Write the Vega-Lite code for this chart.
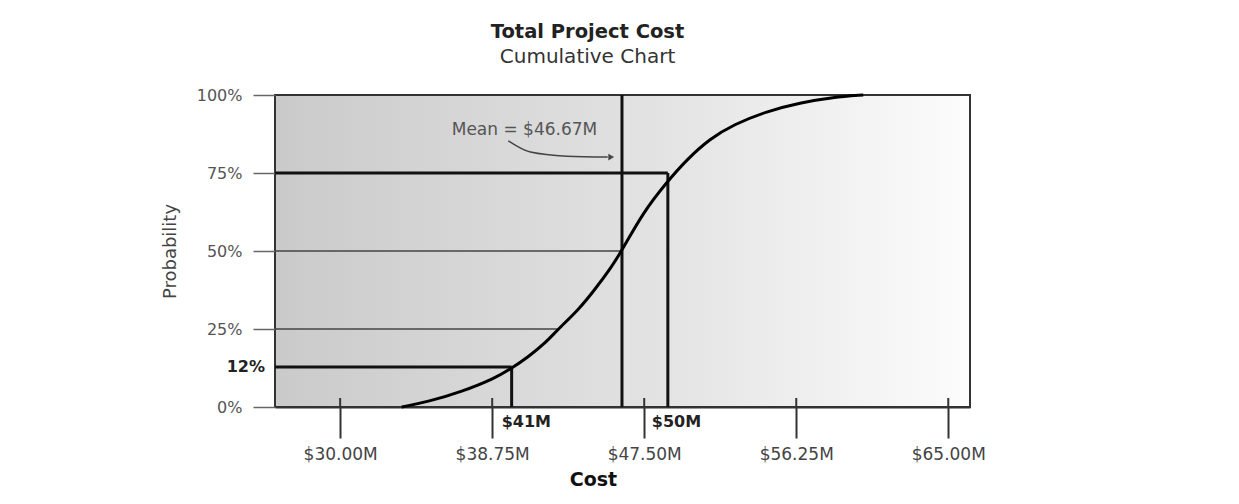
{
  "$schema": "https://vega.github.io/schema/vega-lite/v6.json",
  "autosize": {"type": "none"},
  "width": 695,
  "height": 312,
  "padding": {"left": 275, "top": 95, "right": 269, "bottom": 97},
  "background": "white",
  "config": {
    "font": "DejaVu Sans",
    "view": {
      "stroke": "#333",
      "strokeWidth": 2,
      "fill": {
        "gradient": "linear",
        "x1": 0, "x2": 1, "y1": 0, "y2": 0,
        "stops": [
          {"offset": 0, "color": "#cacaca"},
          {"offset": 0.5, "color": "#e0e0e0"},
          {"offset": 1, "color": "#fcfcfc"}
        ]
      }
    }
  },
  "title": {
    "text": "Total Project Cost",
    "subtitle": "Cumulative Chart",
    "anchor": "middle",
    "dx": -35,
    "fontSize": 19.5,
    "fontWeight": "bold",
    "color": "#222",
    "subtitleFontSize": 20,
    "subtitleColor": "#333",
    "subtitlePadding": 5,
    "offset": 19
  },
  "datasets": {
    "curve": [
      {"cost": 33.54, "prob": 0.0},
      {"cost": 35.07, "prob": 0.017},
      {"cost": 37.0, "prob": 0.049},
      {"cost": 38.91, "prob": 0.092},
      {"cost": 39.87, "prob": 0.124},
      {"cost": 40.83, "prob": 0.161},
      {"cost": 41.79, "prob": 0.204},
      {"cost": 42.55, "prob": 0.25},
      {"cost": 43.71, "prob": 0.311},
      {"cost": 44.67, "prob": 0.377},
      {"cost": 45.63, "prob": 0.45},
      {"cost": 46.2, "prob": 0.5},
      {"cost": 47.45, "prob": 0.625},
      {"cost": 48.79, "prob": 0.72},
      {"cost": 49.95, "prob": 0.793},
      {"cost": 51.29, "prob": 0.86},
      {"cost": 52.63, "prob": 0.905},
      {"cost": 54.55, "prob": 0.948},
      {"cost": 56.47, "prob": 0.975},
      {"cost": 58.38, "prob": 0.993},
      {"cost": 60.11, "prob": 1.0}
    ],
    "grid": [
      {"cost": 42.55, "prob": 0.25},
      {"cost": 46.2, "prob": 0.5}
    ],
    "markers": [
      {"cost": 39.87, "prob": 0.128, "probLabel": "12%", "costLabel": "$41M"},
      {"cost": 48.86, "prob": 0.75, "probLabel": "75%", "costLabel": "$50M"}
    ],
    "ticks": [{"cost": 30}, {"cost": 38.75}, {"cost": 47.5}, {"cost": 56.25}, {"cost": 65}],
    "arrow": [
      {"cost": 39.68, "prob": 0.853},
      {"cost": 40.95, "prob": 0.817},
      {"cost": 43.05, "prob": 0.804},
      {"cost": 45.4, "prob": 0.801}
    ]
  },
  "layer": [
    {
      "data": {"name": "grid"},
      "mark": {"type": "rule", "color": "#444", "strokeWidth": 1.3},
      "encoding": {
        "x": {
          "field": "cost",
          "type": "quantitative",
          "scale": {"domain": [26.25, 66.25], "nice": false, "zero": false},
          "axis": {
            "title": "Cost",
            "values": [30, 38.75, 47.5, 56.25, 65],
            "labelExpr": "'$' + format(datum.value, '.2f') + 'M'",
            "tickSize": 31,
            "tickWidth": 2,
            "tickColor": "#333",
            "domain": true,
            "domainColor": "#333",
            "domainWidth": 2,
            "grid": false,
            "labelFontSize": 17,
            "labelColor": "#444",
            "labelPadding": 8,
            "titleFontSize": 19,
            "titleFontWeight": "bold",
            "titleColor": "#111",
            "titleX": 318,
            "titleY": 72,
            "titleBaseline": "middle"
          }
        },
        "x2": {"datum": 26.25},
        "y": {
          "field": "prob",
          "type": "quantitative",
          "scale": {"domain": [0, 1], "nice": false, "zero": false},
          "axis": {
            "title": "Probability",
            "values": [0, 0.25, 0.5, 0.75, 1],
            "format": ".0%",
            "tickSize": 22,
            "tickColor": "#666",
            "tickWidth": 1.5,
            "labelPadding": 11,
            "labelFontSize": 16,
            "labelColor": "#555",
            "domain": false,
            "grid": false,
            "titleFontSize": 18,
            "titleFontWeight": "normal",
            "titleColor": "#444",
            "titleX": -105,
            "titleY": 156,
            "titleAngle": -90,
            "titleAlign": "center",
            "titleBaseline": "middle"
          }
        }
      }
    },
    {
      "data": {"name": "ticks"},
      "mark": {"type": "tick", "orient": "vertical", "size": 9, "thickness": 2, "color": "#333", "opacity": 1},
      "encoding": {
        "x": {"field": "cost", "type": "quantitative"},
        "y": {"datum": 0.0145, "type": "quantitative"}
      }
    },
    {
      "data": {"name": "markers"},
      "mark": {"type": "rule", "color": "#111", "strokeWidth": 3},
      "encoding": {
        "x": {"field": "cost", "type": "quantitative"},
        "x2": {"datum": 26.25},
        "y": {"field": "prob", "type": "quantitative"}
      }
    },
    {
      "data": {"name": "markers"},
      "mark": {"type": "rule", "color": "#111", "strokeWidth": 3},
      "encoding": {
        "x": {"field": "cost", "type": "quantitative"},
        "y": {"field": "prob", "type": "quantitative"},
        "y2": {"datum": 0}
      }
    },
    {
      "data": {"values": [{"cost": 46.22}]},
      "mark": {"type": "rule", "color": "#111", "strokeWidth": 3},
      "encoding": {
        "x": {"field": "cost", "type": "quantitative"}
      }
    },
    {
      "data": {"name": "curve"},
      "mark": {"type": "line", "color": "#000", "strokeWidth": 3, "interpolate": "basis"},
      "encoding": {
        "x": {"field": "cost", "type": "quantitative"},
        "y": {"field": "prob", "type": "quantitative"}
      }
    },
    {
      "data": {"name": "markers"},
      "transform": [{"filter": "datum.costLabel == '$41M'"}],
      "mark": {"type": "text", "align": "left", "baseline": "middle", "dx": -10, "dy": 15, "fontSize": 16, "fontWeight": "bold", "color": "#222"},
      "encoding": {
        "x": {"field": "cost", "type": "quantitative"},
        "y": {"datum": 0, "type": "quantitative"},
        "text": {"field": "costLabel"}
      }
    },
    {
      "data": {"name": "markers"},
      "transform": [{"filter": "datum.costLabel == '$50M'"}],
      "mark": {"type": "text", "align": "left", "baseline": "middle", "dx": -16, "dy": 15, "fontSize": 16, "fontWeight": "bold", "color": "#222"},
      "encoding": {
        "x": {"field": "cost", "type": "quantitative"},
        "y": {"datum": 0, "type": "quantitative"},
        "text": {"field": "costLabel"}
      }
    },
    {
      "data": {"name": "markers"},
      "transform": [{"filter": "datum.probLabel == '12%'"}],
      "mark": {"type": "text", "align": "right", "baseline": "middle", "dx": -10, "fontSize": 16, "fontWeight": "bold", "color": "#222"},
      "encoding": {
        "x": {"datum": 26.25, "type": "quantitative"},
        "y": {"field": "prob", "type": "quantitative"},
        "text": {"field": "probLabel"}
      }
    },
    {
      "data": {"name": "arrow"},
      "mark": {"type": "line", "color": "#444", "strokeWidth": 1.5, "interpolate": "monotone"},
      "encoding": {
        "x": {"field": "cost", "type": "quantitative"},
        "y": {"field": "prob", "type": "quantitative"}
      }
    },
    {
      "data": {"values": [{"cost": 45.6, "prob": 0.801}]},
      "mark": {"type": "point", "shape": "triangle-right", "size": 45, "filled": true, "color": "#444", "opacity": 1},
      "encoding": {
        "x": {"field": "cost", "type": "quantitative"},
        "y": {"field": "prob", "type": "quantitative"}
      }
    },
    {
      "data": {"values": [{"cost": 40.61, "prob": 0.888, "label": "Mean = $46.67M"}]},
      "mark": {"type": "text", "align": "center", "baseline": "middle", "fontSize": 17, "color": "#555"},
      "encoding": {
        "x": {"field": "cost", "type": "quantitative"},
        "y": {"field": "prob", "type": "quantitative"},
        "text": {"field": "label"}
      }
    }
  ]
}
